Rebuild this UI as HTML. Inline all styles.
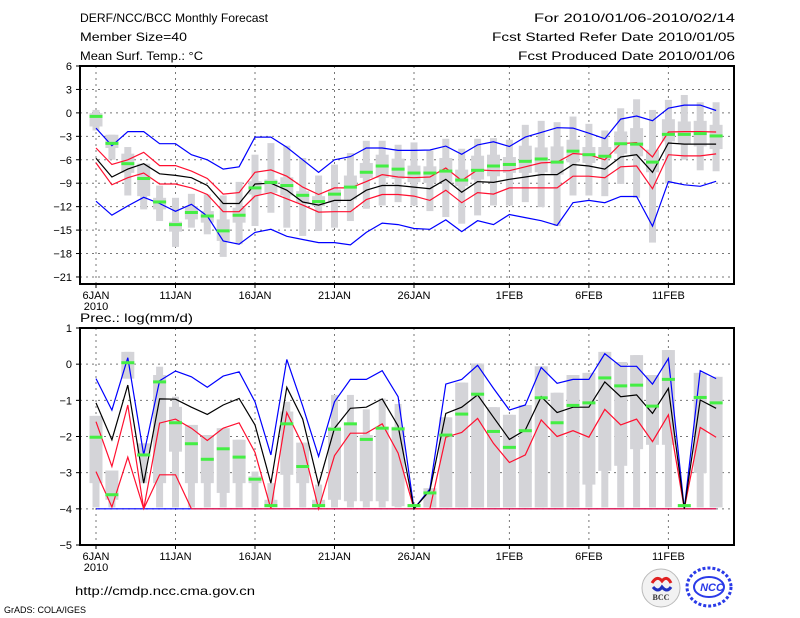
<!DOCTYPE html>
<html><head><meta charset="utf-8">
<style>
html,body{margin:0;padding:0;background:#fff;}
svg{display:block;font-family:"Liberation Sans",sans-serif;}
</style></head>
<body>
<svg id="chart" width="800" height="618" viewBox="0 0 800 618" xmlns="http://www.w3.org/2000/svg">
<g font-size="12" fill="#000">
<text x="80" y="22" textLength="188" lengthAdjust="spacingAndGlyphs">DERF/NCC/BCC Monthly Forecast</text>
<text x="80" y="41" textLength="107" lengthAdjust="spacingAndGlyphs">Member Size=40</text>
<text x="80" y="60" textLength="123" lengthAdjust="spacingAndGlyphs">Mean Surf. Temp.: °C</text>
<text x="534" y="22" textLength="201" lengthAdjust="spacingAndGlyphs">For 2010/01/06-2010/02/14</text>
<text x="492" y="41" textLength="243" lengthAdjust="spacingAndGlyphs">Fcst Started Refer Date 2010/01/05</text>
<text x="518" y="60" textLength="217" lengthAdjust="spacingAndGlyphs">Fcst Produced Date 2010/01/06</text>
<text x="80" y="322" textLength="113" lengthAdjust="spacingAndGlyphs">Prec.: log(mm/d)</text>
<text x="75" y="595" textLength="180" lengthAdjust="spacingAndGlyphs">http://cmdp.ncc.cma.gov.cn</text>
<text x="4" y="613" font-size="9">GrADS: COLA/IGES</text>
</g>
<g id="top"></g>
<g id="bot"></g>
<g>
<circle cx="661" cy="588" r="19" fill="#f2f2f2" stroke="#bbb" stroke-width="1"/>
<path d="M652 583 q5 -8 10 -2 q5 -6 9 2" fill="none" stroke="#e02020" stroke-width="3"/>
<path d="M653 587 q5 6 9 0 q5 6 9 0" fill="none" stroke="#2030c0" stroke-width="3"/>
<text x="661" y="600" font-size="8" font-weight="bold" text-anchor="middle" fill="#333" font-family="Liberation Serif,serif">BCC</text>
<ellipse cx="709" cy="587" rx="22" ry="19" fill="none" stroke="#2a3ae8" stroke-width="3" stroke-dasharray="3 2"/>
<ellipse cx="709" cy="587" rx="15" ry="10" fill="none" stroke="#2a3ae8" stroke-width="2"/>
<text x="712" y="591" font-size="11" font-weight="bold" font-style="italic" text-anchor="middle" fill="#2a3ae8">NCC</text>
</g>
</svg>
<script>
// ---------- shared x data ----------
const days = Array.from({length:40},(_,i)=>i);
const dateTickDays = [0,5,10,15,20,26,31,36];
const dateTickLabels = ['6JAN','11JAN','16JAN','21JAN','26JAN','1FEB','6FEB','11FEB'];

// ---------- temperature panel data ----------
const tTicks = [6,3,0,-3,-6,-9,-12,-15,-18,-21];
const tBlueHi = [-1.95,-4.2,-2.4,-2.4,-3.95,-3.95,-5.35,-6.0,-7.2,-6.9,-3.1,-3.1,-4.4,-6.0,-7.6,-6.0,-5.6,-4.5,-4.5,-4.8,-4.8,-4.75,-4.25,-5.3,-4.1,-3.7,-4.3,-3.1,-2.5,-1.9,-1.95,-2.6,-3.3,-0.8,-0.4,-1.0,0.6,1.0,1.0,0.3];
const tBlueLo = [-11.3,-13.1,-11.9,-10.8,-11.6,-12.6,-11.7,-13.2,-16.4,-16.8,-15.3,-14.9,-15.8,-16.2,-16.6,-16.6,-16.9,-15.3,-14.1,-14.3,-14.8,-14.9,-13.7,-15.2,-13.8,-14.3,-13.0,-13.4,-13.8,-14.4,-11.5,-11.2,-11.5,-10.7,-10.7,-14.5,-8.8,-9.2,-9.4,-8.75];
const tRedHi = [-4.5,-6.6,-6.0,-5.05,-6.75,-6.75,-7.45,-8.4,-10.4,-10.2,-7.6,-7.3,-8.1,-9.5,-10.45,-9.6,-9.6,-8.8,-7.9,-8.2,-8.3,-8.2,-7.05,-8.65,-7.3,-7.4,-7.4,-6.9,-6.4,-6.3,-5.2,-5.35,-6.0,-3.95,-3.8,-5.65,-2.45,-2.4,-2.4,-2.45];
const tRedLo = [-6.4,-9.2,-8.3,-7.7,-9.1,-9.1,-9.6,-10.45,-12.65,-12.65,-10.65,-10.2,-11.0,-11.8,-12.7,-12.65,-12.65,-11.1,-10.45,-10.45,-10.65,-11.2,-9.9,-11.5,-10.2,-10.4,-9.6,-9.6,-9.6,-9.6,-8.1,-8.1,-8.3,-6.9,-6.8,-9.7,-5.35,-5.5,-5.5,-5.25];
const tMean = [-5.8,-8.2,-7.2,-6.5,-7.8,-8.0,-8.3,-9.3,-11.6,-11.6,-9.1,-9.0,-9.9,-11.4,-11.8,-11.2,-11.2,-9.9,-9.3,-9.3,-9.5,-9.7,-8.5,-10.15,-8.8,-8.9,-8.5,-8.2,-7.9,-7.9,-6.6,-6.8,-7.2,-5.65,-5.35,-7.6,-3.85,-4.0,-4.0,-4.0];
const tMedian = [-0.45,-3.9,-6.5,-8.4,-11.4,-14.3,-12.75,-13.2,-15.1,-13.1,-9.6,-8.9,-9.3,-10.55,-11.35,-10.4,-9.5,-7.6,-6.8,-7.2,-7.7,-7.7,-7.45,-8.6,-7.35,-6.8,-6.6,-6.2,-5.9,-6.3,-4.9,-5.35,-5.55,-3.95,-4.0,-6.3,-2.75,-2.75,-2.65,-2.95];
const tMax = [0.38,-2.8,-4.37,-6.5,-9.3,-10.87,-10.36,-10.44,-10.57,-8.83,-5.35,-3.87,-4.2,-5.77,-8.02,-6.62,-5.14,-3.57,-3.57,-4.08,-3.78,-4.8,-3.31,-4.59,-3.31,-3.23,-3.44,-1.53,-1.02,-1.19,-0.47,-1.4,-2.25,0.59,1.74,0.38,1.66,2.29,1.36,1.36];
const tMin = [-2.25,-5.99,-10.57,-12.35,-13.84,-17.15,-14.69,-15.54,-18.43,-16.81,-14.48,-12.78,-14.69,-15.75,-15.12,-14.69,-13.84,-12.27,-11.85,-11.42,-11.85,-12.57,-13.33,-14.18,-13.12,-11.85,-11.85,-11.42,-12.06,-14.48,-10.57,-10.57,-10.66,-9.09,-10.87,-16.6,-9.04,-5.99,-7.35,-7.47];
const tQ3 = [-0.04,-2.8,-5.22,-6.5,-10.87,-13.93,-11.93,-12.57,-13.63,-12.14,-8.75,-8.53,-8.24,-10.02,-10.66,-9.81,-8.02,-6.41,-5.35,-5.86,-6.75,-6.84,-5.77,-7.26,-5.48,-5.35,-5.65,-4.2,-4.42,-4.29,-3.44,-4.37,-4.37,-2.38,-1.95,-4.71,-0.81,-1.1,-1.02,-1.53];
const tQ1 = [-1.74,-4.5,-7.68,-10.66,-12.35,-15.2,-13.63,-14.05,-16.39,-14.05,-10.44,-10.23,-10.57,-11.59,-11.93,-11.5,-11.08,-8.32,-8.32,-8.45,-8.87,-8.96,-8.96,-9.38,-8.53,-8.11,-7.68,-7.68,-7.6,-7.9,-6.33,-6.41,-5.9,-5.22,-5.56,-7.6,-3.65,-3.99,-4.29,-4.63];

// ---------- precipitation panel data ----------
const pTicks = [1,0,-1,-2,-3,-4,-5];
const pBlueHi = [-0.4,-1.27,0.18,-2.51,-0.46,-0.19,-0.35,-0.64,-0.33,-0.21,-1.04,-2.51,0.13,-1.16,-2.55,-1.04,-0.42,-0.42,-0.18,-0.9,-4.0,-3.45,-0.55,-0.42,-0.03,-0.67,-1.27,-1.13,-0.09,-0.53,-0.42,-0.42,0.29,-0.06,-0.06,-0.55,0.16,-4.0,-0.18,-0.4];
const pBlueLo = [-4,-4,-4,-4,-4,-4,-4,-4,-4,-4,-4,-4,-4,-4,-4,-4,-4,-4,-4,-4,-4,-4,-4,-4,-4,-4,-4,-4,-4,-4,-4,-4,-4,-4,-4,-4,-4,-4,-4,-4];
const pRedHi = [-1.59,-2.83,-1.13,-4,-1.63,-1.52,-1.77,-2.11,-1.77,-1.62,-2.44,-4,-1.34,-2.23,-4,-2.53,-1.91,-1.91,-1.65,-2.46,-4,-4,-2.02,-1.89,-1.5,-2.19,-2.72,-2.51,-1.54,-2.0,-1.84,-2.02,-1.25,-1.68,-1.52,-2.14,-1.4,-4,-1.75,-2.02];
const pRedLo = [-2.97,-3.95,-2.57,-4,-3.06,-3.06,-4,-4,-4,-4,-4,-4,-4,-4,-4,-4,-4,-4,-4,-4,-4,-4,-4,-4,-4,-4,-4,-4,-4,-4,-4,-4,-4,-4,-4,-4,-4,-4,-4,-4];
const pMean = [-1.07,-2.09,-0.58,-3.29,-0.96,-0.97,-1.19,-1.39,-1.13,-0.95,-1.68,-3.29,-0.64,-1.52,-3.33,-1.77,-1.22,-1.19,-0.96,-1.71,-4,-3.49,-1.36,-1.19,-0.85,-1.47,-2.08,-1.82,-0.9,-1.34,-1.19,-1.19,-0.49,-0.9,-0.85,-1.36,-0.67,-4,-0.99,-1.22];
const pMedian = [-2.02,-3.61,0.04,-2.51,-0.49,-1.62,-2.2,-2.63,-2.34,-2.57,-3.18,-3.91,-1.65,-2.83,-3.91,-1.8,-1.65,-2.08,-1.77,-1.79,-3.91,-3.56,-1.96,-1.38,-0.83,-1.86,-2.3,-1.84,-0.93,-1.62,-1.14,-1.07,-0.38,-0.6,-0.58,-1.16,-0.42,-3.91,-0.92,-1.07];
const pMax = [-1.43,-2.94,0.34,-2.19,-0.07,-0.9,-1.68,-1.96,-1.77,-2.09,-2.97,-3.29,-1.04,-2.17,-3.33,-0.85,-0.85,-1.25,-0.95,-1.1,-3.93,-3.43,-1.47,-0.51,0.02,-1.19,-1.4,-1.13,-0.06,-0.79,-0.3,-0.24,0.34,0.06,0.25,-0.3,0.39,-3.93,-0.24,-0.35];
const pQ3 = [-1.43,-2.94,0.34,-2.19,-0.3,-1.18,-1.68,-1.96,-1.77,-2.09,-3.1,-3.75,-1.31,-2.17,-3.75,-1.73,-1.63,-1.96,-1.73,-1.73,-3.93,-3.43,-1.47,-0.51,0.02,-1.19,-1.4,-1.13,-0.06,-0.79,-0.3,-0.24,0.34,0.06,0.25,-0.3,0.39,-3.93,-0.24,-0.35];
const pQ1 = [-3.29,-3.75,-0.4,-2.55,-3.29,-2.42,-3.29,-3.29,-3.56,-3.29,-3.29,-3.96,-3.06,-3.29,-3.96,-3.75,-3.79,-3.79,-3.79,-3.93,-3.96,-3.96,-3.96,-3.96,-3.96,-3.96,-3.96,-3.96,-3.96,-3.96,-3.96,-3.33,-2.95,-2.81,-2.35,-2.23,-2.23,-3.96,-3.01,-3.96];
const pMin = [-3.96,-3.96,-0.4,-3.29,-3.96,-3.96,-3.96,-3.96,-3.96,-3.96,-3.96,-3.96,-3.96,-3.96,-3.96,-3.96,-3.96,-3.96,-3.96,-3.96,-3.96,-3.96,-3.96,-3.96,-3.96,-3.96,-3.96,-3.96,-3.96,-3.96,-3.96,-3.96,-3.96,-3.96,-3.96,-3.96,-3.96,-3.96,-3.96,-3.96];

const NS='http://www.w3.org/2000/svg';
const X0=80, X1=734;
function xS(d){return 96 + d*15.9;}
function mk(parent,tag,attrs){const e=document.createElementNS(NS,tag);for(const k in attrs)e.setAttribute(k,attrs[k]);parent.appendChild(e);return e;}

function panel(g, top, bottom, vTop, vBot, ticks, s, pref){
  const yS = v => top + (vTop - v)*(bottom-top)/(vTop-vBot);
  ticks.forEach(t=>{
    const y=yS(t);
    if(y>top+1 && y<bottom-1){
      const l=mk(g,'line',{x1:X0,x2:X1,y1:y,y2:y,stroke:'#777','stroke-dasharray':'2 4','stroke-width':1});
      
      
    }
    const tk=mk(g,'line',{x1:X0-4,x2:X0,y1:y,y2:y,stroke:'#000'});
    
    
    const tx=mk(g,'text',{x:X0-8,y:y+4,'font-size':11,'text-anchor':'end'});
    tx.textContent = t<0 ? '\u2212'+Math.abs(t) : String(t);
    
    
  });
  dateTickDays.forEach((d,i)=>{
    const x=xS(d);
    const l=mk(g,'line',{x1:x,x2:x,y1:top,y2:bottom,stroke:'#777','stroke-dasharray':'2 4'});
    
    
    const tk=mk(g,'line',{x1:x,x2:x,y1:bottom,y2:bottom+4,stroke:'#000'});
    
    
    const tx=mk(g,'text',{x:x,y:bottom+15,'font-size':11,'text-anchor':'middle'});
    tx.textContent=dateTickLabels[i];
    
    
  });
  const yr=mk(g,'text',{x:xS(0),y:bottom+26,'font-size':11,'text-anchor':'middle'});
  yr.textContent='2010';
  
  
  days.forEach(d=>{
    const x=xS(d);
    const o=mk(g,'rect',{x:x-3.5,width:7,y:yS(s.max[d]),height:Math.max(1,yS(s.min[d])-yS(s.max[d])),fill:'#d4d4d8'});
    
    
    const b=mk(g,'rect',{x:x-6.5,width:13,y:yS(s.q3[d]),height:Math.max(1,yS(s.q1[d])-yS(s.q3[d])),fill:'#d4d4d8'});
    
    
  });
  const lines=[[s.blueHi,'#0000ff','upper-blue-line'],[s.blueLo,'#0000ff','lower-blue-line'],[s.redHi,'#ff1030','upper-red-line'],[s.redLo,'#ff1030','lower-red-line'],[s.mean,'#000','ensemble-mean-line']];
  lines.forEach(([arr,c,nm])=>{
    const p=mk(g,'polyline',{points:days.map(d=>xS(d).toFixed(1)+','+yS(arr[d]).toFixed(1)).join(' '),fill:'none',stroke:c,'stroke-width':1.2});
    
    
  });
  days.forEach(d=>{
    const m=mk(g,'rect',{x:xS(d)-6.5,width:13,y:yS(s.med[d])-1.5,height:3,fill:'#44ee44'});
    
    
  });
  const f=mk(g,'rect',{x:X0,y:top,width:X1-X0,height:bottom-top,fill:'none',stroke:'#000','stroke-width':2});
  
  
}

panel(document.getElementById('top'),66,284,6,-21.9,tTicks,
  {blueHi:tBlueHi,blueLo:tBlueLo,redHi:tRedHi,redLo:tRedLo,mean:tMean,med:tMedian,max:tMax,min:tMin,q3:tQ3,q1:tQ1},'temp');
panel(document.getElementById('bot'),328,545,1,-5,pTicks,
  {blueHi:pBlueHi,blueLo:pBlueLo,redHi:pRedHi,redLo:pRedLo,mean:pMean,med:pMedian,max:pMax,min:pMin,q3:pQ3,q1:pQ1},'precip');
</script>
</body></html>
